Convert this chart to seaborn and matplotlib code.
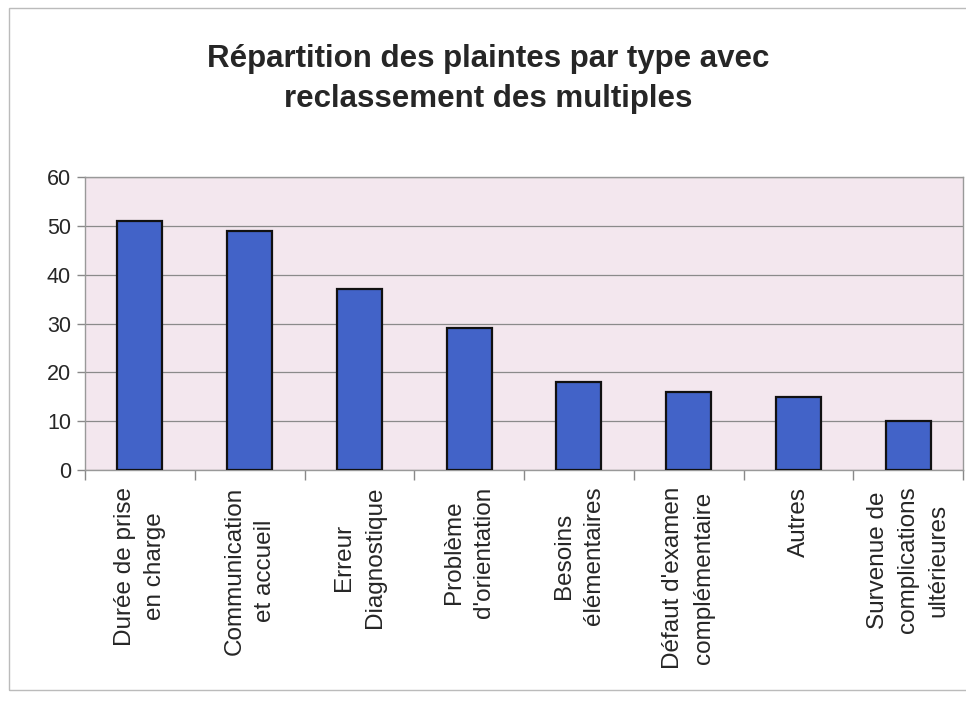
import matplotlib
matplotlib.use("Agg")
import matplotlib.pyplot as plt
import seaborn as sns
import pandas as pd
from matplotlib.patches import Rectangle

categories = [
    "Durée de prise\nen charge",
    "Communication\net accueil",
    "Erreur\nDiagnostique",
    "Problème\nd'orientation",
    "Besoins\nélémentaires",
    "Défaut d'examen\ncomplémentaire",
    "Autres",
    "Survenue de\ncomplications\nultérieures",
]
values = [51, 49, 37, 29, 18, 16, 15, 10]
yticks = [0, 10, 20, 30, 40, 50, 60]
title = "Répartition des plaintes par type avec\nreclassement des multiples"

sns.set_theme(style="white")
plt.rcParams["font.family"] = ["Liberation Sans", "DejaVu Sans"]

df = pd.DataFrame({"cat": categories, "val": values})

fig = plt.figure(figsize=(9.66, 7.01), dpi=100)
ax = fig.add_axes([0.088, 0.3295, 0.909, 0.418])
ax.set_facecolor("#F3E7EE")

sns.barplot(data=df, x="cat", y="val", color="#4263C8", saturation=1,
            width=0.41, edgecolor="#111111", linewidth=1.6, ax=ax, zorder=3)

ax.set_ylim(0, 60)
ax.set_xlim(-0.5, len(categories) - 0.5)
ax.set_yticks(yticks)
ax.set_yticklabels([str(t) for t in yticks], fontsize=15.5)
ax.yaxis.grid(True, color="#8a8a8a", linewidth=0.9, zorder=0)
ax.set_axisbelow(True)
ax.set_xlabel("")
ax.set_ylabel("")

ax.set_xticks(range(len(categories)))
ax.set_xticklabels(categories, rotation=90, fontsize=17.5, ha="center",
                   va="top", multialignment="center", linespacing=1.5)
ax.tick_params(axis="x", length=0, pad=12)
ax.tick_params(axis="y", length=6, width=1, color="#888888", left=True, pad=4)

# minor ticks at category boundaries
ax.set_xticks([i + 0.5 for i in range(-1, len(categories))], minor=True)
ax.tick_params(axis="x", which="minor", length=7, width=1, color="#888888", bottom=True)

for side in ["top", "right", "left", "bottom"]:
    ax.spines[side].set_color("#999999")
    ax.spines[side].set_linewidth(1.0)

fig.text(0.505, 0.887, title, ha="center", va="center", fontsize=22.5,
         fontweight="bold", linespacing=1.45)

fig.patches.append(Rectangle((0.009, 0.016), 0.995, 0.972, transform=fig.transFigure,
                             fill=False, edgecolor="#bbbbbb", linewidth=1.0))

fig.savefig("out.png", dpi=100)
